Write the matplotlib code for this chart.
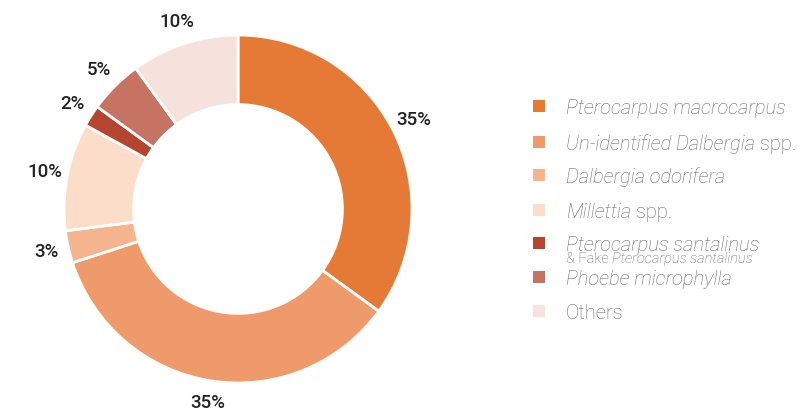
import matplotlib.pyplot as plt
from matplotlib.patches import Rectangle

plt.rcParams['font.family'] = ['Roboto', 'DejaVu Sans']

species = ['Pterocarpus macrocarpus', 'Un-identified Dalbergia spp.', 'Dalbergia odorifera',
           'Millettia spp.', 'Pterocarpus santalinus', 'Phoebe microphylla', 'Others']
shares = [35, 35, 3, 10, 2, 5, 10]
colors = ['#E57A37', '#EE9A6A', '#F4B48D', '#FCDDC9', '#B5452F', '#C77364', '#F5E2DD']

# legend text pieces: (text, italic)
legend_parts = [
    [('Pterocarpus macrocarpus', True)],
    [('Un-identified Dalbergia', True), (' spp.', False)],
    [('Dalbergia odorifera', True)],
    [('Millettia', True), (' spp.', False)],
    [('Pterocarpus santalinus', True)],
    [('Phoebe microphylla', True)],
    [('Others', False)],
]
sub_parts = [('& Fake ', False), ('Pterocarpus santalinus', True)]

W, H = 804, 411
fig = plt.figure(figsize=(W / 100, H / 100), dpi=100)

cx, cy, r = 238, 209, 174
ax = fig.add_axes([(cx - r) / W, (H - cy - r) / H, 2 * r / W, 2 * r / H])
wedges, texts, autotexts = ax.pie(
    shares, colors=colors, startangle=90, counterclock=False,
    radius=1, autopct='%d%%', pctdistance=1.13,
    wedgeprops=dict(width=0.4, edgecolor='white', linewidth=2),
    textprops=dict(fontsize=13.5, color='#222222', fontweight='medium'))
ax.set_xlim(-1, 1)
ax.set_ylim(-1, 1)
ax.set_aspect('equal')
ax.axis('off')

txt_col = '#6a6a6a'


def write_parts(parts, x, y, size):
    prev = None
    for txt, it in parts:
        style = 'italic' if it else 'normal'
        if prev is None:
            prev = fig.text(x / W, 1 - y / H, txt, fontsize=size, color=txt_col,
                            style=style, fontweight='light', va='bottom')
        else:
            prev = ax.annotate(txt, xy=(1, 0), xycoords=prev, fontsize=size,
                               color=txt_col, style=style, fontweight='light',
                               va='bottom', ha='left')
    return prev


row_y = [106, 142, 175, 210, 243, 277, 311]
for i, (parts, col) in enumerate(zip(legend_parts, colors)):
    y = row_y[i]
    fig.patches.append(Rectangle((533 / W, 1 - (y + 6) / H), 12 / W, 12 / H,
                                 transform=fig.transFigure, facecolor=col,
                                 edgecolor='none'))
    write_parts(parts, 566, y + 12, 14.5)
    if i == 4:
        write_parts(sub_parts, 566, 266, 10.5)

plt.savefig('out.png', dpi=100)
